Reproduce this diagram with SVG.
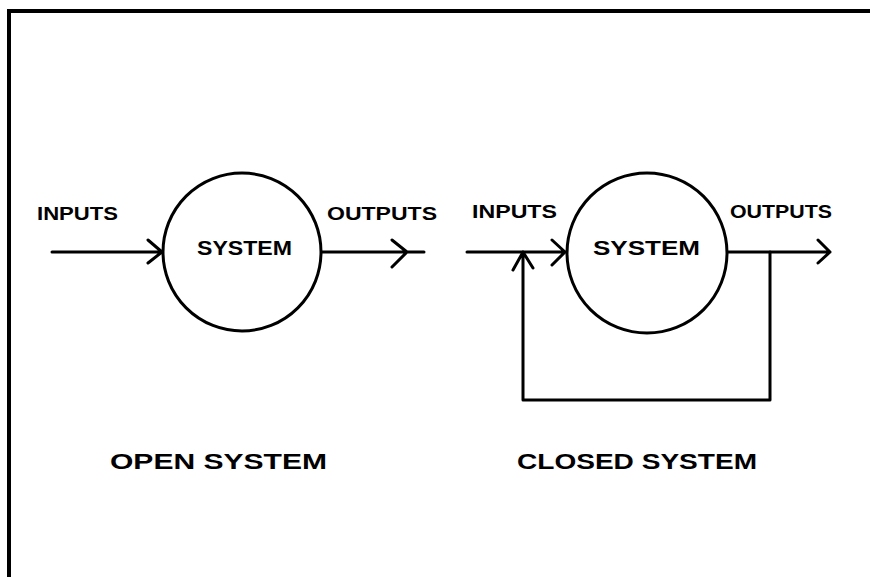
<svg xmlns="http://www.w3.org/2000/svg" width="870" height="577" viewBox="0 0 870 577">
<style>
.ln{fill:none;stroke:#000;stroke-width:3;stroke-linecap:round;stroke-linejoin:round}
.fr{fill:none;stroke:#000;stroke-width:4}
.circ{fill:#fff;stroke:#000;stroke-width:3}
text{font-family:"Liberation Sans",Arial,sans-serif;font-weight:bold;fill:#000}
.sm{font-size:18px}
.md{font-size:21px}
.lg{font-size:22px}
</style>
<rect width="870" height="577" fill="#fff"/>
<g id="frame">
<path class="fr" d="M870,11 L9,11 L9,577"/>
</g>
<g id="connectors">
<path class="ln" d="M52,252 L162,252 M148,240 L162,252 L148,263"/>
<path class="ln" d="M322,252 L424,252 M392,240 L407,252 L392,267"/>
<path class="ln" d="M467,252 L567,252 M552,240 L565,252 L552,265"/>
<path class="ln" d="M523,252 L523,400 L770,400 L770,252 M513,270 L523,252 L533,268"/>
<path class="ln" d="M727,252 L830,252 M818,240 L830,252 L818,263"/>
</g>
<g id="open-system">
<circle class="circ" cx="242" cy="252" r="79"/>
<text class="md" x="197" y="255" textLength="95" lengthAdjust="spacingAndGlyphs">SYSTEM</text>
</g>
<g id="open-inputs"><text class="sm" x="37" y="220" textLength="81" lengthAdjust="spacingAndGlyphs">INPUTS</text></g>
<g id="open-outputs"><text class="sm" x="327" y="220" textLength="110" lengthAdjust="spacingAndGlyphs">OUTPUTS</text></g>
<g id="closed-system">
<circle class="circ" cx="647" cy="253" r="80"/>
<text class="md" x="593" y="255" textLength="107" lengthAdjust="spacingAndGlyphs">SYSTEM</text>
</g>
<g id="closed-inputs"><text class="sm" x="472" y="218" textLength="85" lengthAdjust="spacingAndGlyphs">INPUTS</text></g>
<g id="closed-outputs"><text class="sm" x="730" y="218" textLength="102" lengthAdjust="spacingAndGlyphs">OUTPUTS</text></g>
<g id="label-open"><text class="lg" x="110" y="469" textLength="217" lengthAdjust="spacingAndGlyphs">OPEN  SYSTEM</text></g>
<g id="label-closed"><text class="lg" x="517" y="469" textLength="240" lengthAdjust="spacingAndGlyphs">CLOSED  SYSTEM</text></g>
</svg>
